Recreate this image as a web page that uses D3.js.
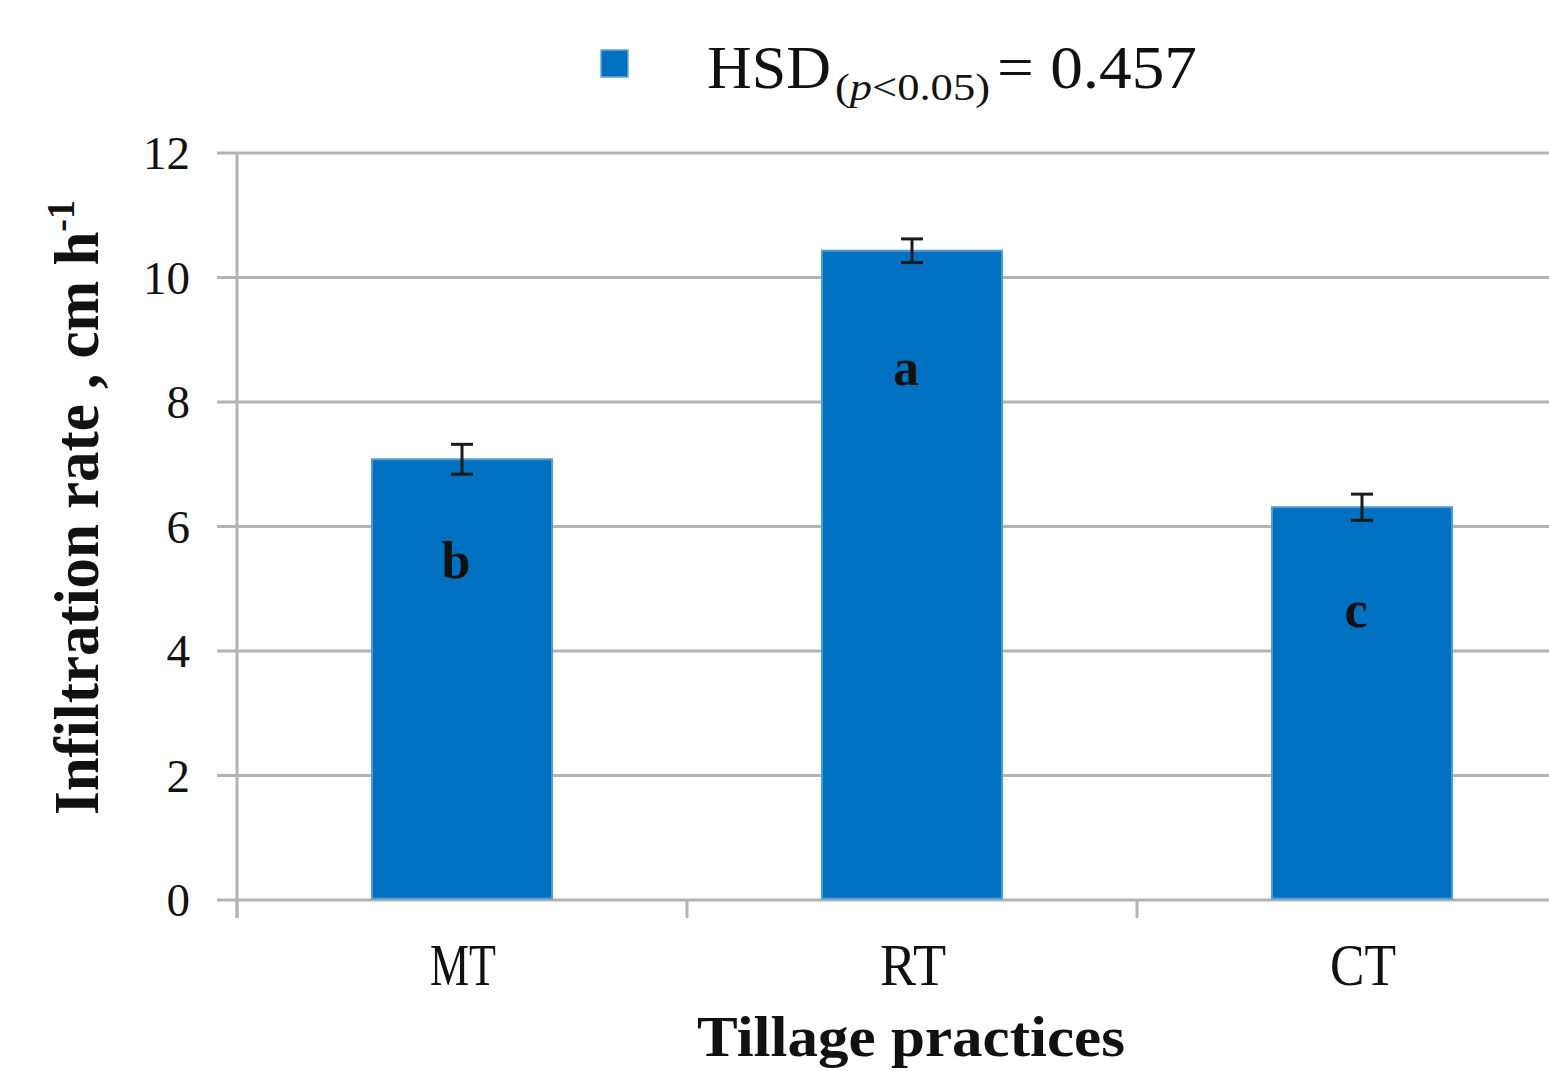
<!DOCTYPE html>
<html lang="en">
<head>
<meta charset="UTF-8">
<title>Infiltration rate</title>
<script src="https://d3js.org/d3.v7.min.js"></script>
<style>
  body { margin: 0; background: #fff; }
  text { font-family: "Liberation Serif", "Times New Roman", serif; fill: #111; }
</style>
</head>
<body>
<svg id="chart" width="1549" height="1071"></svg>
<script>
// data
const categories = ["MT", "RT", "CT"];
const values = [7.08, 10.43, 6.31];
const errors = [0.24, 0.19, 0.21];
const letters = ["b", "a", "c"];
const letterLevels = [5.17, 8.27, 4.39]; // where the letters sit (axis units)
const yTicks = [0, 2, 4, 6, 8, 10, 12];

const svg = d3.select("#chart");
const margin = { top: 153, left: 237, bottom: 900, right: 1587 };

const x = d3.scaleBand()
    .domain(categories)
    .range([margin.left, margin.right])
    .paddingInner(0.6)
    .paddingOuter(0.3);

const y = d3.scaleLinear()
    .domain([0, 12])
    .range([margin.bottom, margin.top]);

const gridColor = "#b3b3b3";

// gridlines + y ticks
svg.append("g")
    .selectAll("line")
    .data(yTicks)
    .enter().append("line")
    .attr("x1", margin.left - 20)
    .attr("x2", 1549)
    .attr("y1", d => y(d))
    .attr("y2", d => y(d))
    .attr("stroke", gridColor)
    .attr("stroke-width", 3);

// y axis line
svg.append("line")
    .attr("x1", margin.left).attr("x2", margin.left)
    .attr("y1", y(12)).attr("y2", y(0) + 18)
    .attr("stroke", gridColor).attr("stroke-width", 3);

// x category boundary ticks
svg.append("g")
    .selectAll("line")
    .data(categories)
    .enter().append("line")
    .attr("x1", d => x(d) - x.bandwidth() * 0.75)
    .attr("x2", d => x(d) - x.bandwidth() * 0.75)
    .attr("y1", y(0))
    .attr("y2", y(0) + 18)
    .attr("stroke", gridColor)
    .attr("stroke-width", 3);

// y tick labels
svg.append("g")
    .selectAll("text")
    .data(yTicks)
    .enter().append("text")
    .attr("x", 190)
    .attr("y", d => y(d) + 16)
    .attr("text-anchor", "end")
    .attr("font-size", 47)
    .text(d => d);

// bars
svg.append("g")
    .selectAll("rect")
    .data(values)
    .enter().append("rect")
    .attr("x", (d, i) => x(categories[i]))
    .attr("y", d => y(d))
    .attr("width", x.bandwidth())
    .attr("height", d => y(0) - y(d) - 1.5)
    .attr("fill", "#0070c0")
    .attr("stroke", "#4f9ad8")
    .attr("stroke-width", 2);

// error bars
const eb = svg.append("g").attr("stroke", "#1a1a1a").attr("stroke-width", 3);
values.forEach((v, i) => {
    const cx = x(categories[i]) + x.bandwidth() / 2;
    eb.append("line").attr("x1", cx).attr("x2", cx)
        .attr("y1", y(v + errors[i])).attr("y2", y(v - errors[i]));
    [v + errors[i], v - errors[i]].forEach(e => {
        eb.append("line").attr("x1", cx - 11).attr("x2", cx + 11)
            .attr("y1", y(e)).attr("y2", y(e));
    });
});

// significance letters
svg.append("g")
    .selectAll("text")
    .data(letters)
    .enter().append("text")
    .attr("x", (d, i) => x(categories[i]) + x.bandwidth() / 2 - 6)
    .attr("y", (d, i) => y(letterLevels[i]))
    .attr("text-anchor", "middle")
    .attr("font-size", 52)
    .attr("font-weight", "bold")
    .attr("fill", "#000")
    .text(d => d);

// x tick labels
svg.append("g")
    .selectAll("text")
    .data(categories)
    .enter().append("text")
    .attr("x", d => x(d) + x.bandwidth() / 2 + 1)
    .attr("y", 985)
    .attr("text-anchor", "middle")
    .attr("font-size", 60)
    .attr("textLength", 66)
    .attr("lengthAdjust", "spacingAndGlyphs")
    .text(d => d);

// x title
svg.append("text")
    .attr("x", 911)
    .attr("y", 1056)
    .attr("text-anchor", "middle")
    .attr("font-size", 58)
    .attr("font-weight", "bold")
    .attr("textLength", 428)
    .attr("lengthAdjust", "spacingAndGlyphs")
    .text("Tillage practices");

// y title
const yt = svg.append("text")
    .attr("transform", "translate(98,815) rotate(-90)")
    .attr("font-size", 64)
    .attr("font-weight", "bold")
    .attr("textLength", 615)
    .attr("lengthAdjust", "spacingAndGlyphs");
yt.append("tspan").text("Infiltration rate , cm h");
yt.append("tspan").attr("dy", -24).attr("font-size", 40).text("-1");

// legend
svg.append("rect")
    .attr("x", 601).attr("y", 50)
    .attr("width", 27).attr("height", 27)
    .attr("fill", "#0070c0")
    .attr("stroke", "#6aa7dc").attr("stroke-width", 1.5);

svg.append("text").attr("x", 707).attr("y", 88)
    .attr("font-size", 62).text("HSD");
const sub = svg.append("text").attr("x", 835).attr("y", 100)
    .attr("font-size", 38)
    .attr("textLength", 155)
    .attr("lengthAdjust", "spacingAndGlyphs");
sub.append("tspan").text("(");
sub.append("tspan").attr("font-style", "italic").text("p");
sub.append("tspan").text("<0.05)");
svg.append("text").attr("x", 997).attr("y", 88)
    .attr("font-size", 62)
    .attr("textLength", 200)
    .attr("lengthAdjust", "spacingAndGlyphs")
    .text("= 0.457");
</script>
</body>
</html>
